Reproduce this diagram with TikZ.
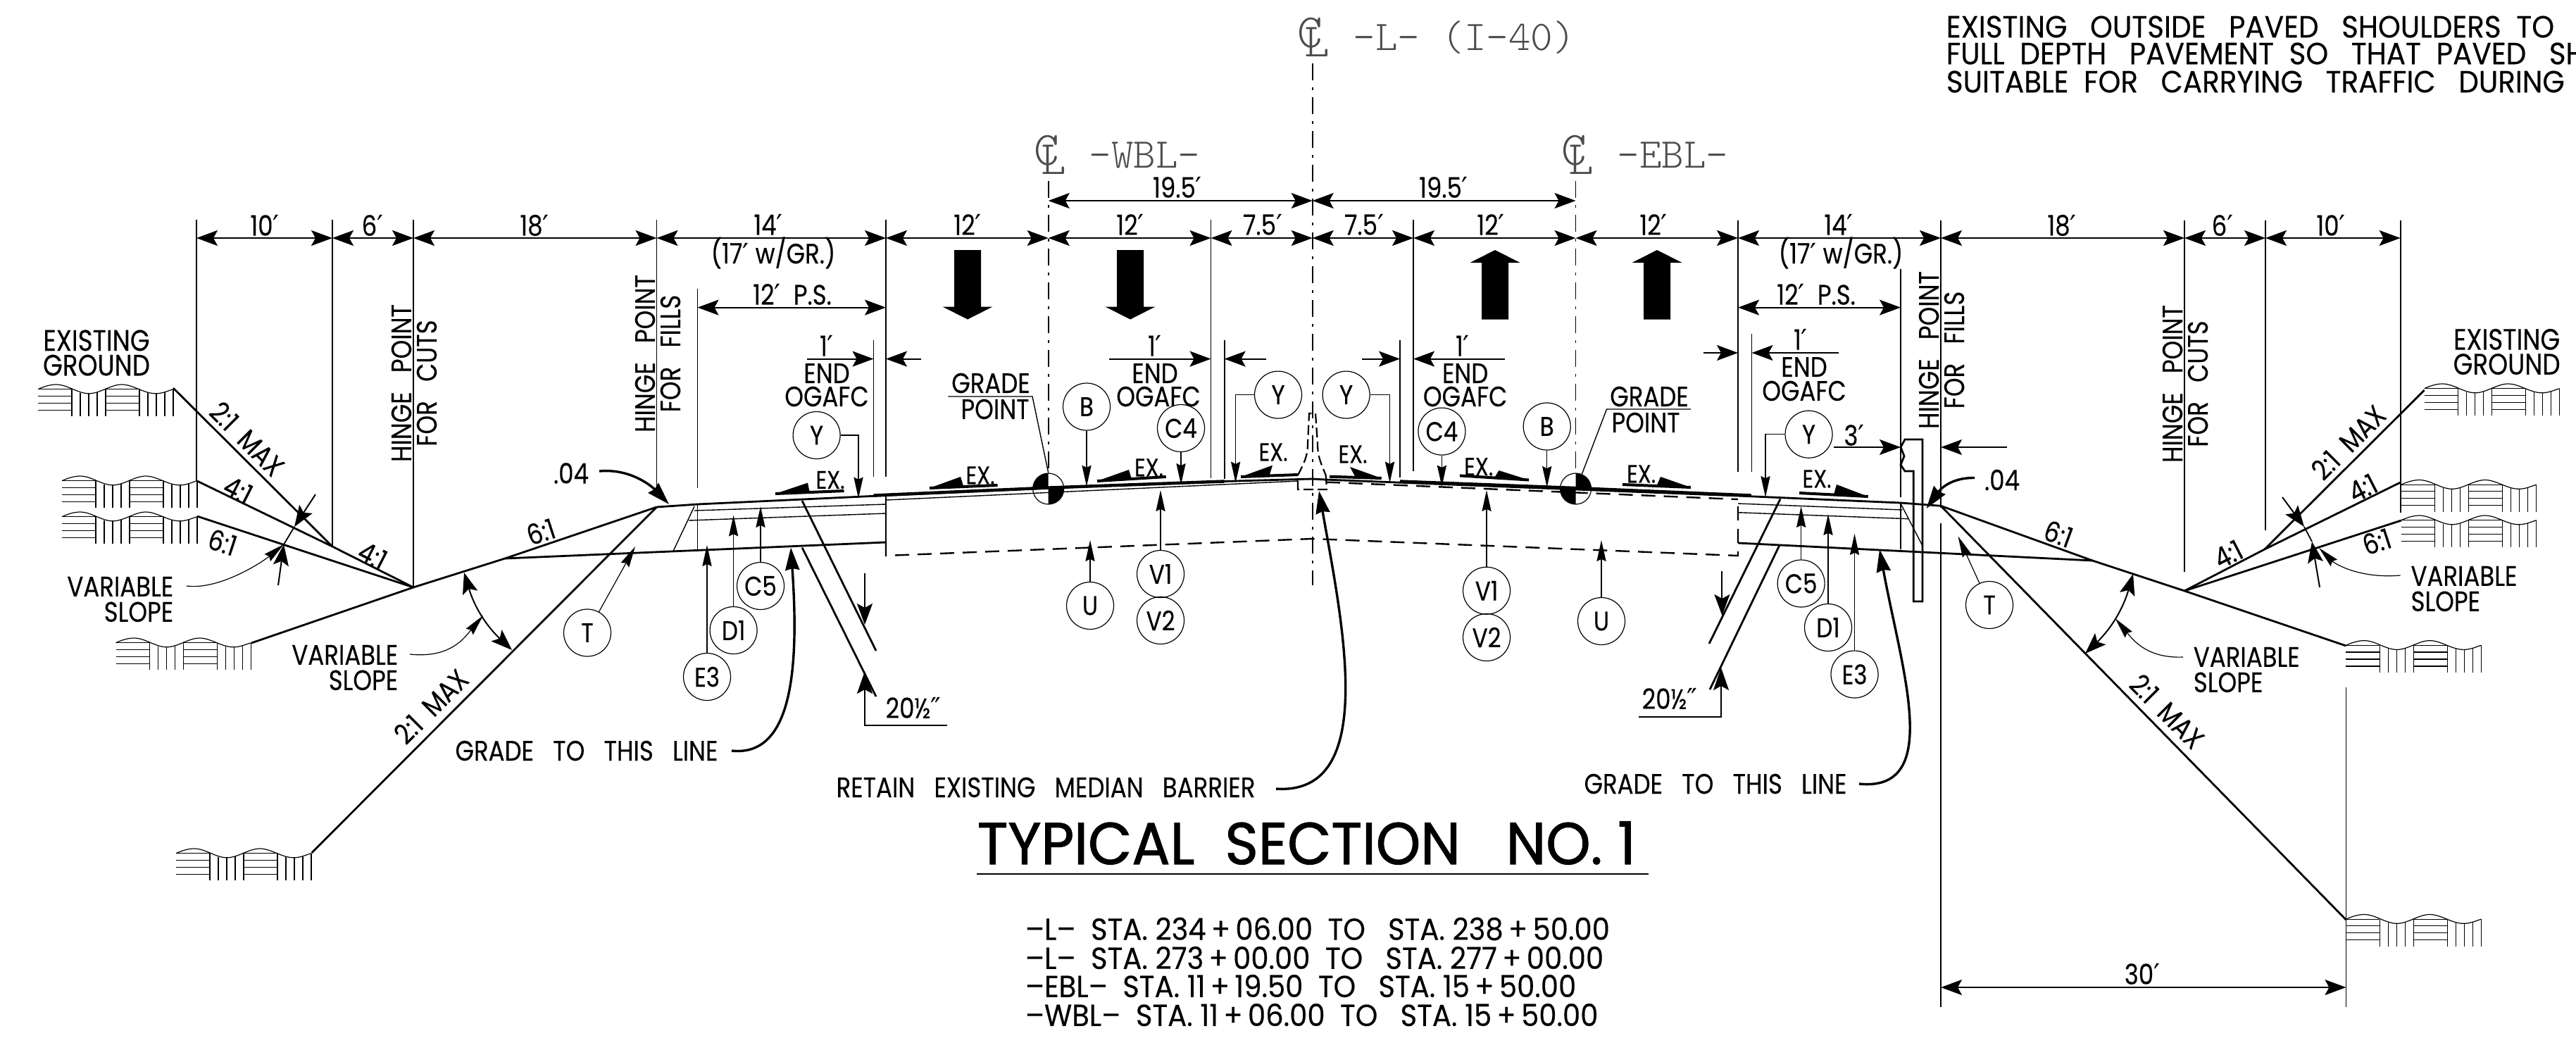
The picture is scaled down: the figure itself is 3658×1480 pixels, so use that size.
\documentclass[tikz,border=0pt]{standalone}
\usepackage{fontspec}
\usetikzlibrary{arrows.meta,calc}
\setmainfont[FakeStretch=0.85,FakeBold=0.25]{Poppins}
\newfontfamily\symf{DejaVu Sans}
\newfontfamily\titlef[FakeStretch=0.96,FakeBold=1.2]{Poppins}
\newfontfamily\notef[FakeStretch=0.93,FakeBold=0.3]{Poppins}
\newfontfamily\thinf{Latin Modern Mono Light}
\newcommand{\pr}{{\symf ′}}
\newcommand{\dpr}{{\symf ″}}
\newcommand{\clsym}{\rlap{C}\kern2.5pt\raisebox{-3.25pt}{L}}
\tikzset{
 lbl/.style={font=\fontsize{10}{9}\selectfont, inner sep=0pt, align=center},
 big/.style={font=\fontsize{10.5}{8.8}\selectfont, inner sep=0pt, align=center},
 small/.style={font=\fontsize{9}{9}\selectfont, inner sep=0pt},
 gtxt/.style={font=\fontsize{15}{15}\selectfont\thinf, text=black!70, inner sep=0pt, anchor=west},
 gsym/.style={font=\fontsize{17}{17}\selectfont\thinf, text=black!70, inner sep=0pt},
 cir/.style={draw, circle, line width=.3pt, minimum size=16.75pt, inner sep=0pt, font=\fontsize{9.6}{9}\selectfont},
 rowtxt/.style={inner sep=0pt, anchor=west, font=\fontsize{10.8}{10}\selectfont\notef},
 notetxt/.style={inner sep=0pt, anchor=west, font=\fontsize{10.9}{10}\selectfont\notef},
 ext/.style={line width=.45pt},
 dimln/.style={line width=.5pt, {Stealth[length=7.5pt,width=5.5pt,inset=1.5pt]}-{Stealth[length=7.5pt,width=5.5pt,inset=1.5pt]}},
 onetip/.style={line width=.5pt, -{Stealth[length=7.5pt,width=5.5pt,inset=1.5pt]}},
 lead/.style={line width=.3pt, -{Stealth[length=7.5pt,width=3.3pt,inset=.8pt]}},
 heavy/.style={line width=.95pt},
 heavyarr/.style={line width=.85pt, -{Stealth[length=8pt,width=5pt,inset=.6pt]}},
 slope/.style={line width=.7pt},
 lay/.style={line width=.35pt},
 cline/.style={line width=.4pt, dash pattern=on 6pt off 2.5pt on 1pt off 2.5pt},
 dashedbase/.style={line width=.6pt, dash pattern=on 5pt off 3pt},
 barr/.style={line width=.55pt, dash pattern=on 3.5pt off 1.5pt},
 grd/.pic={
  \draw[line width=.3pt] (0,6.7) .. controls (8,3) and (17,0) .. (25.7,0) .. controls (42,0) and (56,12.8) .. (72.3,12.8) .. controls (88,12.8) and (103,0) .. (119,0) .. controls (135,0) and (150,12.8) .. (167,12.8) .. controls (177,12.8) and (184,9) .. (192,6.7);
  \foreach \yy in {6.7,16.3,26.3,36.3}{
   \draw[line width=.3pt] (0,\yy)--(48,\yy);
   \draw[line width=.3pt] (96,\yy)--(144,\yy);}
  \foreach \xx/\yy in {48/7,60/11.5,72/12.8,84/10.5,96/5.5,144/6,156/11.5,168/12.8,180/11,192/6.7}{
   \draw[line width=.3pt] (\xx,\yy)--(\xx,45);}
 }
}
\newcommand{\Ex}[9]{%
 \node[small] (#1) at (#2,#3) {EX.};
 \coordinate (#1T) at (#4,#5); \coordinate (#1E) at (#6,#7); \coordinate (#1B) at (#8,#9);
 \draw[line width=1pt] (#1T)--(#1E);
 \fill (#1T)--(#1B)--($(#1T)!0.5!(#1E)$)--cycle;}
\newcommand{\GP}[4]{%
 \node[draw,circle,line width=.3pt,minimum size=11pt,inner sep=0pt] (#1) at (#2,#3) {};
 \begin{scope}\clip (#2,#3) rectangle ({#2+#4*22},{#3-22}); \fill (#2,#3) circle[radius=5.5pt];\end{scope}
 \begin{scope}\clip (#2,#3) rectangle ({#2-#4*22},{#3+22}); \fill (#2,#3) circle[radius=5.5pt];\end{scope}}
\newcommand{\BigArrow}[3]{% x, tip y, dir (+1 down-pointing:shaft above)
 \fill (#1,#2)--({#1+35.5},{#2-(#3)*18})--({#1+19},{#2-(#3)*18})--({#1+19},{#2-(#3)*98.5})--({#1-19},{#2-(#3)*98.5})--({#1-19},{#2-(#3)*18})--({#1-35.5},{#2-(#3)*18})--cycle;}
\begin{document}
\begin{tikzpicture}[x=.25pt,y=-.25pt]
\useasboundingbox (0,0) rectangle (3658,1480);
% extension lines
\foreach \xx/\ya/\yb in {279/312/683,472/312/776,587/312/834,932.5/312/696,990.5/410/693,990.5/716/782,1240.5/483/677,1258/312/677,1719.5/312/679,1738.6/483/680,1988/483/678,2007/312/669,2468/313/670,2487.5/474/670,2699/382/706,2699/714/780,2756/313/721,2756/743/1430,3102/313/812,3217/313/752.6,3408.6/313/728,3331.4/976/1430}{
 \draw[ext] (\xx,\ya)--(\xx,\yb);}
\draw[cline] (1863.7,90)--(1863.7,831);
\draw[cline] (1488.7,257)--(1488.7,672);
\draw[cline] (2237.5,257)--(2237.5,672);
% dimension lines
\foreach \xa/\xb/\yy in {279/472/338,472/587/338,587/932.5/338,932.5/1258/338,1258/1488.7/338,1488.7/1719.5/338,1719.5/1863.7/338,1863.7/2007/338,2007/2237.5/338,2237.5/2468/338,2468/2756/338,2756/3102/338,3102/3217/338,3217/3408.6/338,1488.7/1863.7/285,1863.7/2237.5/285,990.5/1258/436.6,2468/2699/436.6,2756/3331.4/1402}{
 \draw[dimln] (\xa,\yy)--(\xb,\yy);}
% dimension labels
\node[lbl] (t10l) at (376,320) {10\pr};
\node[lbl] (t6l) at (529,320) {6\pr};
\node[lbl] (t18l) at (759,320) {18\pr};
\node[lbl] (t14l) at (1091,319) {14\pr};
\node[lbl] (t17l) at (1098,359) {(17\pr\ w/GR.)};
\node[lbl] (t12a) at (1374,319) {12\pr};
\node[lbl] (t12b) at (1605,319) {12\pr};
\node[lbl] (t75a) at (1793,319) {7.5\pr};
\node[lbl] (t75b) at (1937,319) {7.5\pr};
\node[lbl] (t12c) at (2117,319) {12\pr};
\node[lbl] (t12d) at (2348,319) {12\pr};
\node[lbl] (t14r) at (2611,319) {14\pr};
\node[lbl] (t17r) at (2614,359) {(17\pr\ w/GR.)};
\node[lbl] (t18r) at (2928,320) {18\pr};
\node[lbl] (t6r) at (3156,320) {6\pr};
\node[lbl] (t10r) at (3310,320) {10\pr};
\node[lbl] (t195a) at (1672,266) {19.5\pr};
\node[lbl] (t195b) at (2050,266) {19.5\pr};
\node[lbl] (tpsl) at (1125,418) {12\pr~~P.S.};
\node[lbl] (tpsr) at (2579,418) {12\pr~~P.S.};
\node[lbl] (t30) at (3042,1383) {30\pr};
% direction arrows
\BigArrow{1374}{453.5}{1}
\BigArrow{1605}{453.5}{1}
\BigArrow{2123}{355}{-1}
\BigArrow{2353}{355}{-1}
% end OGAFC
\draw[onetip] (1145.5,509.6)--(1240.5,509.6);
\draw[onetip] (1308,509.6)--(1258,509.6);
\draw[onetip] (1575,509.6)--(1719.5,509.6);
\draw[onetip] (1798,509.6)--(1738.6,509.6);
\draw[onetip] (1934,509.6)--(1988,509.6);
\draw[onetip] (2137,509.6)--(2007,509.6);
\draw[onetip] (2418.6,501)--(2468,501);
\draw[onetip] (2611,501)--(2487.5,501);
\node[lbl] (o1) at (1174,491) {1\pr};
\node[lbl] (o2) at (1174,530) {END};
\node[lbl] (o3) at (1174,563) {OGAFC};
\node[lbl] (o4) at (1640,491) {1\pr};
\node[lbl] (o5) at (1640,530) {END};
\node[lbl] (o6) at (1645,563) {OGAFC};
\node[lbl] (o7) at (2077,491) {1\pr};
\node[lbl] (o8) at (2080.6,530) {END};
\node[lbl] (o9) at (2080.6,563) {OGAFC};
\node[lbl] (o10) at (2557,482) {1\pr};
\node[lbl] (o11) at (2562,521) {END};
\node[lbl] (o12) at (2562,555) {OGAFC};
% ground symbols
\foreach \xx/\yy in {54/546,88/676,88/727,164.5/906,250/1205,3442.6/545,3409.8/681.5,3409.8/732,3331.4/909.6,3331.4/1298.5}{
 \pic at (\xx,\yy) {grd};}
% left slopes
\draw[slope] (246,551)--(472,776);
\draw[slope] (280,683)--(472,776)--(587,834);
\draw[slope] (280,733)--(587,834);
\draw[slope] (357,913)--(587,834)--(717,793)--(932.5,720);
\draw[slope] (932.5,720)--(442.6,1211);
% right slopes
\draw[slope] (2756,718.3)--(2971.4,796)--(3102,839)--(3331.4,917);
\draw[slope] (2756,718.3)--(3331.4,1306);
\draw[slope] (3102,839)--(3215.7,780)--(3408.6,685);
\draw[slope] (3215.7,780)--(3442.6,554);
\draw[slope] (3102,839)--(3409.8,739);
% roadway
\draw[slope] (932.5,720)--(990.5,716)--(1258,703.5)--(1490,693)--(1719.5,684)--(1844,680.5)--(1863.7,680)--(1882,681)--(2468,704)--(2699,714)--(2756,718.3);
\draw[line width=1.1pt] (1240.5,703.5)--(1490,692.5)--(1738.6,683.5);
\draw[line width=1.1pt] (1988,683.5)--(2237.5,693)--(2486.7,703.5);
\draw[lay] (1258,710)--(1844,683);
\draw[lay] (1258,703.5)--(1258,770);
\draw[lay] (986,725)--(1258,716);
\draw[lay] (978,739)--(1258,729);
\draw[lay] (986,719)--(956,782.5);
\draw[lay] (2468,715)--(2701.7,724);
\draw[lay] (2468,727.7)--(2710,736.7);
\draw[lay] (2699,715)--(2730,775);
\draw[slope] (717,793)--(1258,770);
\draw[slope] (2468,771)--(2971.4,796);
\draw[dashedbase] (1258,770)--(1258,789)--(1863.7,765)--(2468,789)--(2468,710);
\draw[dashedbase] (1883,684.6)--(2468,709);
% widening cut lines
\draw[slope] (1139,711)--(1244,924);
\draw[slope] (1139,777.5)--(1244,989);
\draw[slope] (2528,708.6)--(2427,914);
\draw[slope] (2527,774)--(2428,979);
\coordinate (wla) at (1228,814); \coordinate (wlb) at (1228,887);
\coordinate (wlc) at (1344.5,1030); \coordinate (wld) at (1228,1030); \coordinate (wle) at (1228,953);
\draw[onetip] (wla)--(wlb);
\draw[line width=.5pt,-{Stealth[length=8pt,width=5.5pt,inset=1.5pt]}] (wlc)--(wld)--(wle);
\node[lbl] (t205l) at (1297,1005) {20½\dpr};
\coordinate (wra) at (2445.4,810.6); \coordinate (wrb) at (2445.4,874);
\coordinate (wrc) at (2327.4,1018); \coordinate (wrd) at (2444,1018); \coordinate (wre) at (2444,948);
\draw[onetip] (wra)--(wrb);
\draw[line width=.5pt,-{Stealth[length=8pt,width=5.5pt,inset=1.5pt]}] (wrc)--(wrd)--(wre);
\node[lbl] (t205r) at (2371,992) {20½\dpr};
% barrier
\draw[barr] (1843,675) .. controls (1850,660) and (1857,650) .. (1857,630) -- (1859,587) -- (1868,587) -- (1871,630) .. controls (1871,650) and (1877,660) .. (1882.7,675);
\draw[barr] (1843,683)--(1843,695)--(1884,695)--(1882.7,675);
% guardrail
\draw[line width=.7pt] (2699,635)--(2705,624)--(2730,624)--(2730,854)--(2717.3,854)--(2717.3,669)--(2705,669)--(2699,660)--(2704,647.7)--cycle;
\draw[onetip] (2604,635)--(2699,635);
\draw[onetip] (2850,635)--(2756,635);
\node[lbl] (t3) at (2633,618) {3\pr};
% EX marks
\Ex{ex1}{1179}{681.5}{1101}{701}{1198.5}{697}{1147}{685.6}
\Ex{ex2}{1392}{675}{1320}{693}{1416.6}{689}{1364}{677}
\Ex{ex3}{1631.5}{664}{1558}{683}{1655.7}{677}{1603}{667}
\Ex{ex4}{1808}{642}{1762}{677}{1842.7}{674}{1807}{660.7}
\Ex{ex5}{1921}{645}{1961.7}{679}{1888}{676.7}{1917}{663}
\Ex{ex6}{2099.7}{662.7}{2171}{681.5}{2073}{675.4}{2128.4}{668}
\Ex{ex7}{2330.6}{673}{2400.8}{692}{2304}{688}{2358}{677}
\Ex{ex8}{2580}{680}{2652.7}{705}{2555}{700}{2608}{688}
% grade points
\GP{gpl}{1488.7}{694}{-1}
\GP{gpr}{2237.5}{694}{1}
\node[lbl] (gl1) at (1407,544) {GRADE};
\node[lbl] (gl2) at (1413,581) {POINT};
\draw[lay] (1346.4,563)--(1466,563)--(gpl.north);
\node[lbl] (gr1) at (2342,563) {GRADE};
\node[lbl] (gr2) at (2337,600) {POINT};
\draw[lay] (2401,581)--(2281.5,581)--(2246.4,673);
% circles
\node[cir] (cYa) at (1159.6,618) {Y};
\node[cir] (cYb) at (1815,560.6) {Y};
\node[cir] (cYc) at (1911.6,560.6) {Y};
\node[cir] (cYd) at (2568.5,616.7) {Y};
\node[cir] (cBa) at (1543,577.5) {B};
\node[cir] (cBb) at (2196.7,605.5) {B};
\node[cir] (cCa) at (1677,608) {C4};
\node[cir] (cCb) at (2047.4,612.6) {C4};
\node[cir] (cVa) at (1648,815) {V1};
\node[cir] (cVb) at (1648,881) {V2};
\node[cir] (cVc) at (2111,838.7) {V1};
\node[cir] (cVd) at (2111,905) {V2};
\node[cir] (cUa) at (1548,860) {U};
\node[cir] (cUb) at (2274,882) {U};
\node[cir] (cEa) at (1004,961) {E3};
\node[cir] (cDa) at (1041.6,895) {D1};
\node[cir] (cFa) at (1080,832) {C5};
\node[cir] (cFb) at (2557.6,828.5) {C5};
\node[cir] (cDb) at (2596,891) {D1};
\node[cir] (cEb) at (2633.5,957.5) {E3};
\node[cir] (cTa) at (834,898.5) {T};
\node[cir] (cTb) at (2825,859) {T};
\coordinate (tYa) at (1219,707.6); \coordinate (tYb) at (1754.6,685.6);
\coordinate (tYc) at (1973.5,685.6); \coordinate (tYd) at (2507,706);
\draw[lead] (cYa.east) -| (tYa);
\draw[lead] (cYb.west) -| (tYb);
\draw[lead] (cYc.east) -| (tYc);
\draw[lead] (cYd.west) -| (tYd);
\foreach \nn/\xx/\yy in {cBa/1543/690.7,cBb/2196.7/692,cCa/1677/688,cCb/2047.4/690.7}{
 \draw[lead] (\nn.south)--(\xx,\yy);}
\foreach \nn/\xx/\yy in {cVa/1648/696,cVc/2111/696,cUa/1548/767,cUb/2274/767,cEa/1004/774,cDa/1041.6/731.5,cFa/1080/719,cFb/2557.6/719,cDb/2596/730,cEb/2633.5/758}{
 \draw[lead] (\nn.north)--(\xx,\yy);}
\coordinate (tTa) at (902,776); \coordinate (tTb) at (2780.5,761.5);
\draw[lead] (cTa)--(tTa);
\draw[lead] (cTb)--(tTb);
% heavy leaders
\node[lbl] (dl) at (811,672) {.04};
\node[lbl] (dr) at (2843,681.5) {.04};
\coordinate (dlt) at (950,716); \coordinate (drt) at (2735.5,722);
\draw[heavyarr] (851,669) .. controls (895,665) and (925,690) .. (dlt);
\draw[heavyarr] (2804,678.5) .. controls (2770,678) and (2755,695) .. (drt);
\node[lbl] (gtl) at (833,1066) {GRADE~~~TO~~~THIS~~~LINE};
\node[lbl] (gtr) at (2436,1113) {GRADE~~~TO~~~THIS~~~LINE};
\node[lbl] (rem) at (1485,1118) {RETAIN~~~EXISTING~~~MEDIAN~~~BARRIER};
\draw[heavyarr] (1039,1066) .. controls (1125,1075) and (1135,950) .. (1123,777.5);
\draw[heavyarr] (2640,1113) .. controls (2760,1125) and (2700,950) .. (2669,780);
\draw[heavyarr] (1812,1120) .. controls (1960,1130) and (1905,880) .. (1873,697);
% slope labels
\node[lbl,rotate=-45] (s1) at (351,623) {2:1~~MAX};
\node[lbl,rotate=-27] (s2) at (338,696) {4:1};
\node[lbl,rotate=-18] (s3) at (316,770) {6:1};
\node[lbl,rotate=-27] (s4) at (529,789) {4:1};
\node[lbl,rotate=18] (s5) at (768,755) {6:1};
\node[lbl,rotate=45] (s6) at (612,1003) {2:1~~MAX};
\node[lbl,rotate=-20] (s7) at (2923,758) {6:1};
\node[lbl,rotate=27] (s8) at (3164,787) {4:1};
\node[lbl,rotate=45] (s9) at (3334.6,628) {2:1~~MAX};
\node[lbl,rotate=27] (s10) at (3355,693) {4:1};
\node[lbl,rotate=18] (s11) at (3375,769) {6:1};
\node[lbl,rotate=-45] (s12) at (3077.5,1010) {2:1~~MAX};
% variable slope
\node[lbl,align=right,anchor=east] (vsa) at (247,851) {VARIABLE\\SLOPE};
\node[lbl,align=right,anchor=east] (vsb) at (566,948) {VARIABLE\\SLOPE};
\node[lbl,align=left,anchor=west] (vsc) at (3422.7,836) {VARIABLE\\SLOPE};
\node[lbl,align=left,anchor=west] (vsd) at (3114,951) {VARIABLE\\SLOPE};
\coordinate (aa) at (448,702); \coordinate (ab) at (418,748); \coordinate (ac) at (403,773); \coordinate (ad) at (395,831);
\draw[onetip] (aa)--(ab); \draw[onetip] (ad)--(ac); \draw[ext] (ab)--(ac);
\draw[lead] (265,832) .. controls (310,838) and (370,800) .. (ac);
\coordinate (ba) at (659,813); \coordinate (bb) at (727,923);
\draw[dimln] (ba) to[bend right=15] (bb);
\draw[lead] (582,929) .. controls (640,935) and (660,905) .. (686,874);
\coordinate (ca) at (3241,706); \coordinate (cb) at (3272,748); \coordinate (cc) at (3283,769); \coordinate (cd) at (3294,834);
\draw[onetip] (ca)--(cb); \draw[onetip] (cd)--(cc); \draw[ext] (cb)--(cc);
\draw[lead] (3408.6,817) .. controls (3350,822) and (3315,800) .. (3293,778);
\coordinate (da) at (3029,815); \coordinate (db) at (2961,928);
\draw[dimln] (da) to[bend left=15] (db);
\draw[lead] (3100,933) .. controls (3050,935) and (3030,910) .. (3003.6,878);
% hinge text
\node[lbl,rotate=90] (hc1) at (588,544) {HINGE~~~POINT\\FOR~~~CUTS};
\node[lbl,rotate=90] (hf1) at (934,502) {HINGE~~~POINT\\FOR~~~FILLS};
\node[lbl,rotate=90] (hf2) at (2757,497) {HINGE~~~POINT\\FOR~~~FILLS};
\node[lbl,rotate=90] (hc2) at (3103,545) {HINGE~~~POINT\\FOR~~~CUTS};
\node[big] (egl) at (137,501) {EXISTING\\GROUND};
\node[big] (egr) at (3559.6,499.5) {EXISTING\\GROUND};
% centre-line labels
\node[gsym] (cl0) at (1865,53) {\clsym};
\node[gsym] (cl1) at (1491,220) {\clsym};
\node[gsym] (cl2) at (2240,220) {\clsym};
\node[gtxt] (clt0) at (1921,53) {-L- (I-40)};
\node[gtxt] (clt1) at (1546,220) {-WBL-};
\node[gtxt] (clt2) at (2296,220) {-EBL-};
% title
\node[inner sep=0pt,anchor=west,font=\fontsize{21}{21}\selectfont\titlef] (title) at (1387,1197) {TYPICAL~~SECTION~~~NO.~1};
\draw[line width=.5pt] (1387,1241)--(2341,1241);
\node[rowtxt] (r1) at (1455,1319) {–L–~~STA.~234\,+\,06.00~~TO~~~STA.~238\,+\,50.00};
\node[rowtxt] (r2) at (1455,1360) {–L–~~STA.~273\,+\,00.00~~TO~~~STA.~277\,+\,00.00};
\node[rowtxt] (r3) at (1455,1400) {–EBL–~~STA.~11\,+\,19.50~~TO~~~STA.~15\,+\,50.00};
\node[rowtxt] (r4) at (1455,1441) {–WBL–~~STA.~11\,+\,06.00~~TO~~~STA.~15\,+\,50.00};
% note
\node[notetxt] (n1) at (2763,38) {EXISTING~~~OUTSIDE~~~PAVED~~~SHOULDERS~~TO};
\node[notetxt] (n2) at (2763,76) {FULL~~DEPTH~~~PAVEMENT~~SO~~~THAT~~PAVED~~~SH};
\node[notetxt] (n3) at (2763,116) {SUITABLE~~FOR~~~CARRYING~~~TRAFFIC~~~DURING};
\end{tikzpicture}
\end{document}
